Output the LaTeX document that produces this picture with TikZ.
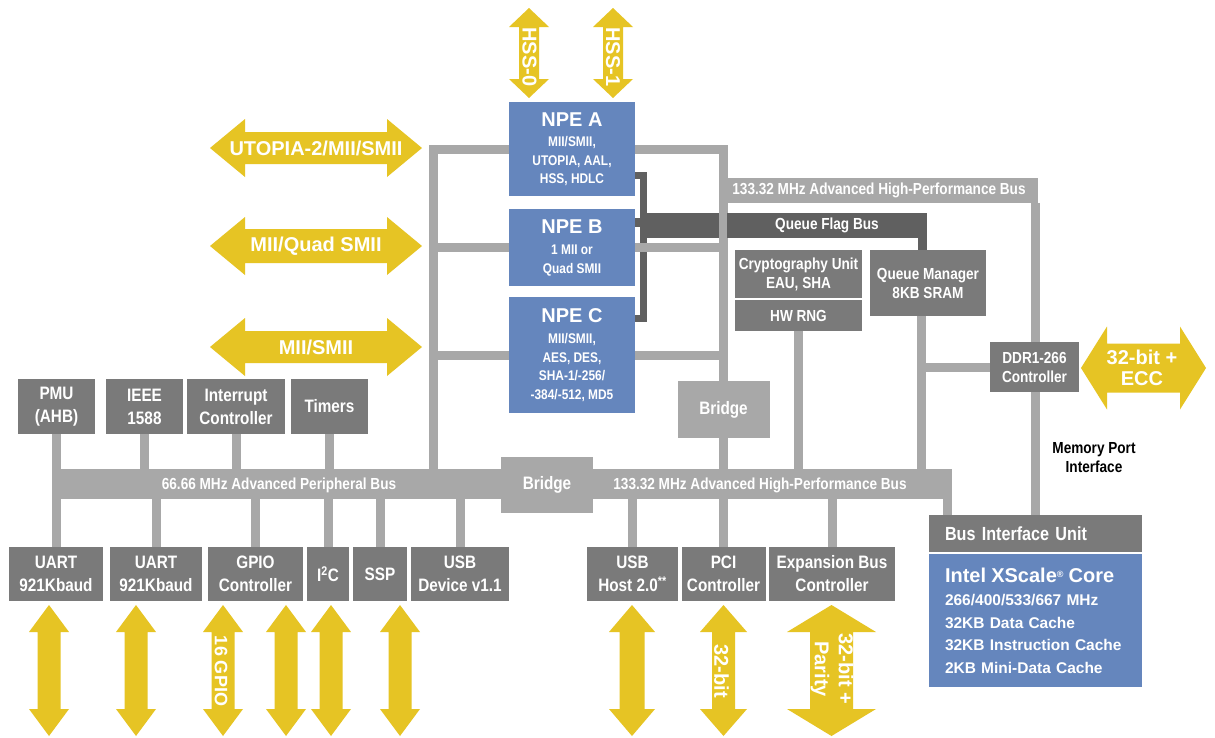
\documentclass[tikz,border=0pt]{standalone}
\usepackage{fontspec}
\setmainfont{Liberation Sans}[FakeStretch=0.85]
\newfontfamily\widefont{Liberation Sans}
\definecolor{ayellow}{RGB}{230,196,36}
\definecolor{npeblue}{RGB}{101,134,189}
\definecolor{boxgray}{RGB}{122,122,122}
\definecolor{busgray}{RGB}{168,168,168}
\definecolor{qgray}{RGB}{96,96,96}
\pgfdeclarelayer{paper}
\pgfdeclarelayer{background}
\pgfsetlayers{paper,background,main}

% double-headed interface arrows
% horizontal: left tip x, right tip x, centre y, head length, head half-width, shaft half-width
\newcommand\hdarrow[6]{%
  \fill[ayellow] (#1,#3) -- ({#1+#4},{#3-#5}) -- ({#1+#4},{#3-#6}) -- ({#2-#4},{#3-#6})
    -- ({#2-#4},{#3-#5}) -- (#2,#3) -- ({#2-#4},{#3+#5}) -- ({#2-#4},{#3+#6})
    -- ({#1+#4},{#3+#6}) -- ({#1+#4},{#3+#5}) -- cycle;}
% vertical: centre x, top tip y, bottom tip y, head length, head half-width, shaft half-width
\newcommand\vdarrow[6]{%
  \fill[ayellow] (#1,#2) -- ({#1+#5},{#2+#4}) -- ({#1+#6},{#2+#4}) -- ({#1+#6},{#3-#4})
    -- ({#1+#5},{#3-#4}) -- (#1,#3) -- ({#1-#5},{#3-#4}) -- ({#1-#6},{#3-#4})
    -- ({#1-#6},{#2+#4}) -- ({#1-#5},{#2+#4}) -- cycle;}

\begin{document}
\begin{tikzpicture}[x=1pt,y=-1pt,
  box/.style={fill=boxgray, text=white, inner sep=0pt, align=center,
    font=\fontsize{18}{23}\selectfont\bfseries},
  smallbox/.style={box, font=\fontsize{16}{19}\selectfont\bfseries},
  npe/.style={fill=npeblue, text=white, inner sep=0pt, align=center,
    minimum width=126pt, font=\fontsize{14}{18.5}\selectfont\bfseries},
  band/.style={fill=busgray, inner sep=0pt, text=white,
    font=\fontsize{16}{18}\selectfont\bfseries},
  bridge/.style={fill=busgray, inner sep=0pt, text=white, minimum width=92pt,
    font=\fontsize{18}{20}\selectfont\bfseries},
  busline/.style={draw=busgray, line width=9pt},
  qline/.style={draw=qgray, line width=7pt},
  atext/.style={text=white, inner sep=0pt, align=center,
    font=\widefont\fontsize{20}{22}\selectfont\bfseries},
  bustext/.style={text=white, inner sep=0pt,
    font=\fontsize{16}{18}\selectfont\bfseries},
]
\useasboundingbox (0,0) rectangle (1215,737);
\begin{pgfonlayer}{paper}
  \fill[white] (0,0) rectangle (1215,737);
\end{pgfonlayer}

% ---- interface arrows ----
\hdarrow{210}{422}{148}{35}{29}{16}
\hdarrow{210}{422}{246}{35}{29}{17}
\hdarrow{210}{422}{347}{35}{29}{16}
\vdarrow{529}{8}{98}{19}{20}{10}
\vdarrow{613}{8}{98}{19}{20}{10}
\hdarrow{1081}{1206}{368}{26}{41.5}{24.5}
\vdarrow{49}{605}{736}{27}{20}{11.5}
\vdarrow{136}{605}{736}{27}{20}{11.5}
\vdarrow{223}{605}{736}{27}{20}{11.5}
\vdarrow{286}{605}{736}{27}{20}{11.5}
\vdarrow{331}{605}{736}{27}{20}{11.5}
\vdarrow{400}{605}{736}{27}{20}{11.5}
\vdarrow{632}{605}{736}{27}{23}{12.5}
\vdarrow{723.5}{605}{736}{27}{23.5}{11.5}
\vdarrow{831.5}{605}{736}{27}{44.5}{21.5}

\node[atext] (tutopia) at (316,148) {UTOPIA-2/MII/SMII};
\node[atext] (tquad) at (316,246) {MII/Quad SMII};
\node[atext] (tmii) at (316,347) {MII/SMII};
\node[atext, rotate=-90] (thss0) at (529.5,57) {HSS-0};
\node[atext, rotate=-90] (thss1) at (613,57) {HSS-1};
\node[atext, font=\widefont\fontsize{20}{21}\selectfont\bfseries] (tecc) at (1142,368) {32-bit +\\ECC};
\node[atext, rotate=-90, font=\widefont\fontsize{18}{20}\selectfont\bfseries] (tgpio) at (221,671) {16 GPIO};
\node[atext, rotate=-90] (tpci) at (721.5,671) {32-bit};
\node[atext, rotate=-90, font=\widefont\fontsize{20}{24}\selectfont\bfseries] (texp) at (832,669) {32-bit +\\Parity};

% ---- network processor engines ----
\node[npe, minimum height=94pt] (npeA) at (572,149)
  {{\widefont\fontsize{20}{20}\selectfont\bfseries NPE A}\\[2pt]MII/SMII,\\UTOPIA, AAL,\\HSS, HDLC};
\node[npe, minimum height=77pt] (npeB) at (572,247.5)
  {{\widefont\fontsize{20}{20}\selectfont\bfseries NPE B}\\[3pt]1 MII or\\Quad SMII};
\node[npe, minimum height=116pt] (npeC) at (572,355)
  {{\widefont\fontsize{20}{20}\selectfont\bfseries NPE C}\\[3pt]MII/SMII,\\AES, DES,\\SHA-1/-256/\\-384/-512, MD5};

% ---- buses and bridges ----
\node[band, minimum width=318pt, minimum height=25pt] (ahbtop) at (879,190.5)
  {133.32 MHz Advanced High-Performance Bus};
\node[band, fill=qgray, minimum width=200pt, minimum height=25pt] (qfb) at (827,225.5)
  {Queue Flag Bus};
\node[band, minimum width=453pt, minimum height=30pt] (apb) at (278.5,484) {};
\node[band, minimum width=362pt, minimum height=30pt] (ahb) at (771,484) {};
\node[bustext] (tapb) at (279,485) {66.66 MHz Advanced Peripheral Bus};
\node[bustext] (tahb) at (760,485) {133.32 MHz Advanced High-Performance Bus};
\node[bridge, minimum height=57pt] (ubridge) at (723.5,409.5) {Bridge};
\node[bridge, minimum height=56pt] (lbridge) at (547,485) {Bridge};

% ---- on-chip units ----
\node[smallbox, minimum width=127pt, minimum height=48pt] (crypto) at (798.5,274)
  {Cryptography Unit\\EAU, SHA};
\node[smallbox, minimum width=127pt, minimum height=31pt] (rng) at (798.5,315.5) {HW RNG};
\node[smallbox, minimum width=116pt, minimum height=66pt] (qm) at (928,283)
  {Queue Manager\\8KB SRAM};
\node[smallbox, minimum width=89pt, minimum height=50pt] (ddr) at (1034.5,367)
  {DDR1-266\\Controller};
\node[font=\fontsize{16}{19}\selectfont\bfseries, align=center, inner sep=0pt] (mpi) at (1094,458)
  {Memory Port\\Interface};
\node[box, minimum width=213pt, minimum height=37pt, text width=181pt, inner xsep=16pt,
  align=left, font=\fontsize{19}{22}\selectfont\bfseries] (biu) at (1035.5,533.5) {Bus Interface Unit};
\node[fill=npeblue, text=white, minimum width=213pt, minimum height=133pt, text width=189pt,
  inner xsep=12pt, inner ysep=0pt, align=left,
  font=\widefont\fontsize{15.5}{22.5}\selectfont\bfseries] (core) at (1035.5,620.5)
  {\hspace*{4pt}{\fontsize{20}{20}\selectfont Intel XScale\raisebox{5pt}{\fontsize{9}{9}\selectfont ®} Core}\\[1pt]
   \hspace*{4pt}266/400/533/667 MHz\\\hspace*{4pt}32KB Data Cache\\
   \hspace*{4pt}32KB Instruction Cache\\\hspace*{4pt}2KB Mini-Data Cache};

% peripheral row above the APB
\node[box, minimum width=77pt, minimum height=55pt] (pmu) at (56.5,406.5) {PMU\\(AHB)};
\node[box, minimum width=77pt, minimum height=55pt] (ieee) at (144.5,406.5) {IEEE\\1588};
\node[box, minimum width=98pt, minimum height=55pt] (intc) at (236,406.5) {Interrupt\\Controller};
\node[box, minimum width=77pt, minimum height=55pt] (timers) at (329.5,406.5) {Timers};

% peripheral row below the buses
\node[box, minimum width=94pt, minimum height=54pt] (uart1) at (56,574) {UART\\921Kbaud};
\node[box, minimum width=92pt, minimum height=54pt] (uart2) at (156,574) {UART\\921Kbaud};
\node[box, minimum width=95pt, minimum height=54pt] (gpio) at (255.5,574) {GPIO\\Controller};
\node[box, minimum width=42pt, minimum height=54pt] (itwoc) at (328,574) {I\textsuperscript{2}C};
\node[box, minimum width=54pt, minimum height=54pt] (ssp) at (380,574) {SSP};
\node[box, minimum width=98pt, minimum height=54pt] (usbd) at (460,574) {USB\\Device v1.1};
\node[box, minimum width=91pt, minimum height=54pt] (usbh) at (632.5,574) {USB\\Host 2.0\textsuperscript{**}};
\node[box, minimum width=84pt, minimum height=54pt] (pci) at (723.5,574) {PCI\\Controller};
\node[box, minimum width=126pt, minimum height=54pt] (expb) at (832,574) {Expansion Bus\\Controller};

% ---- connectors ----
\coordinate (qa) at (643.5,175);
\coordinate (qb) at (643.5,222.5);
\coordinate (qc) at (643.5,318.5);
\coordinate (qe) at (640,225.5);
\coordinate (qd) at (922.5,0);
\coordinate (ftl) at (433,149);
\coordinate (ftr) at (723.5,149);
\coordinate (mx) at (1035,0);
\coordinate (qmx) at (921,0);
\coordinate (bx) at (947,0);

\begin{pgfonlayer}{background}
  % queue flag bus wiring
  \draw[qline] (npeA.east |- qa) -- (qa) -- (qc) -- (npeC.east |- qc);
  \draw[qline, line width=9pt] (npeB.east |- qb) -- (qb);
  \draw[draw=qgray, line width=25pt] (qe) -- (qfb.west);
  \draw[qline, line width=9pt] (qfb.south -| qd) -- (qm.north -| qd);
  % NPE frame
  \draw[busline] (ftl |- apb.north) -- (ftl) -- (ftr) -- (ubridge.north);
  \draw[busline] (npeB.west -| ftl) -- (npeB.east -| ftr);
  \draw[busline] (npeC.west -| ftl) -- (npeC.east -| ftr);
  % high-performance bus side
  \draw[busline] (ahbtop.south -| mx) -- (biu.north -| mx);
  \draw[busline] (qm.south -| qmx) -- (ahb.north -| qmx);
  \draw[busline] (ddr.west -| qmx) -- (ddr.west);
  \draw[busline] (rng.south) -- (rng.south |- ahb.north);
  \draw[busline] (ubridge.south) -- (ubridge.south |- ahb.north);
  \draw[busline] (ahb.south -| bx) -- (biu.north -| bx);
  % peripheral taps
  \foreach \n in {pmu,ieee,intc,timers}
    \draw[busline] (\n.south) -- (\n.south |- apb.north);
  \foreach \n in {uart1,uart2,gpio,itwoc,ssp,usbd}
    \draw[busline] (\n.north) -- (\n.north |- apb.south);
  \foreach \n in {usbh,pci,expb}
    \draw[busline] (\n.north) -- (\n.north |- ahb.south);
\end{pgfonlayer}
\end{tikzpicture}
\end{document}
